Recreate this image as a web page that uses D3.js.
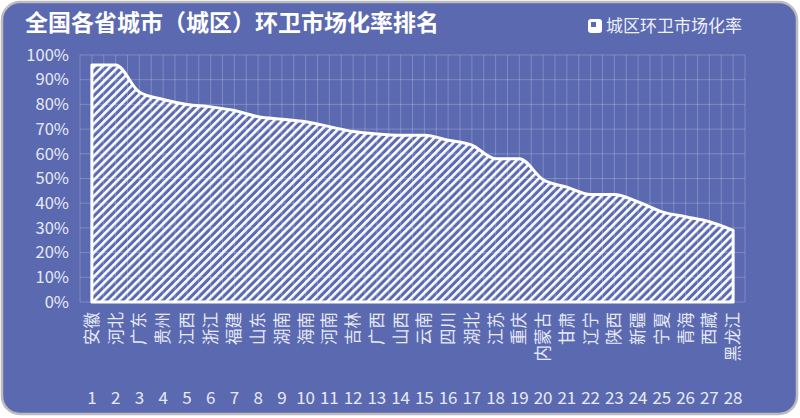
<!DOCTYPE html>
<html>
<head>
<meta charset="utf-8">
<script src="https://cdn.jsdelivr.net/npm/d3@7"></script>
<style>
  html, body { margin: 0; padding: 0; background: #fff; }
  svg { display: block; font-family: "Noto Sans CJK SC", "Noto Sans", sans-serif; }
</style>
</head>
<body>
<div id="chart"></div>
<script>
'use strict';

// provinces, ranked
var provinces = ["安徽", "河北", "广东", "贵州", "江西", "浙江", "福建", "山东", "湖南", "海南",
	"河南", "吉林", "广西", "山西", "云南", "四川", "湖北", "江苏", "重庆", "内蒙古",
	"甘肃", "辽宁", "陕西", "新疆", "宁夏", "青海", "西藏", "黑龙江"];
var ranks = d3.range(1, 29);
var rates = [0.96, 0.96, 0.85, 0.82, 0.80, 0.79, 0.775, 0.75, 0.74, 0.73,
	0.71, 0.69, 0.68, 0.675, 0.675, 0.655, 0.635, 0.58, 0.58, 0.495,
	0.465, 0.435, 0.435, 0.405, 0.365, 0.345, 0.325, 0.29];
var yTicks = [0, 0.1, 0.2, 0.3, 0.4, 0.5, 0.6, 0.7, 0.8, 0.9, 1];

var W = 800, H = 418;
var margin = { top: 55, right: 55, bottom: 116, left: 80 };
var width = W - margin.left - margin.right, //
	height = H - margin.top - margin.bottom;

var svg = d3.select("#chart").append("svg")
	.attr("width", W).attr("height", H);

// card background
svg.append("rect")
	.attr("x", 2).attr("y", 2).attr("width", W - 5).attr("height", H - 6)
	.attr("rx", 18).attr("ry", 18)
	.attr("fill", "#5b69b0")
	.attr("stroke", "#bcbcbc").attr("stroke-width", 2.5);

// hatch pattern
var pat = svg.append("defs").append("pattern")
	.attr("id", "hatch")
	.attr("patternUnits", "userSpaceOnUse")
	.attr("width", 5.7).attr("height", 5.7)
	.attr("patternTransform", "rotate(45)");
pat.append("line")
	.attr("x1", 1.3).attr("y1", 0).attr("x2", 1.3).attr("y2", 5.7)
	.attr("stroke", "#fff").attr("stroke-width", 2.6);

// title
svg.append("text")
	.attr("x", 25).attr("y", 31)
	.attr("fill", "#fff").attr("font-size", 23).attr("font-weight", "bold")
	.text("全国各省城市（城区）环卫市场化率排名");

// legend
var lg = svg.append("g").attr("transform", "translate(588,19)");
lg.append("rect").attr("width", 14).attr("height", 14).attr("rx", 3).attr("fill", "#fff");
lg.append("rect").attr("x", 3).attr("y", 3).attr("width", 5).attr("height", 5).attr("fill", "#5b69b0");
lg.append("text").attr("x", 18).attr("y", 13)
	.attr("fill", "#eef0fa").attr("font-size", 17)
	.text("城区环卫市场化率");

var g = svg.append("g")
	.attr("transform", "translate(" + margin.left + "," + margin.top + ")");

var x = d3.scaleBand().domain(ranks).range([0, width]);
var y = d3.scaleLinear().domain([0, 1]).range([height, 0]);
var bw = x.bandwidth();
function cx(d) { return x(d) + bw / 2; }

// grid
var grid = g.append("g").attr("stroke", "rgba(255,255,255,0.22)").attr("stroke-width", 1);
grid.selectAll("line.h").data(yTicks).enter().append("line")
	.attr("x1", 0).attr("x2", width)
	.attr("y1", function(d) { return y(d); }).attr("y2", function(d) { return y(d); });
var vlines = d3.range(0, ranks.length * 2 + 1).map(function(i) { return i * bw / 2; });
grid.selectAll("line.v").data(vlines).enter().append("line")
	.attr("x1", function(d) { return d; }).attr("x2", function(d) { return d; })
	.attr("y1", 0).attr("y2", height);

// y axis
var yAxis = g.append("g").call(d3.axisLeft(y).tickValues(yTicks).tickFormat(d3.format(".0%")).tickSize(0).tickPadding(11));
yAxis.select(".domain").remove();
yAxis.selectAll("text").attr("fill", "#e6e9f6").attr("font-size", 16.5)
	.style("font-family", "'Noto Sans CJK SC', sans-serif");

// area
var area = d3.area()
	.x(function(d, i) { return cx(ranks[i]); })
	.y0(y(0))
	.y1(function(d) { return y(d); })
	.curve(d3.curveMonotoneX);
g.append("path").datum(rates)
	.attr("d", area)
	.attr("fill", "url(#hatch)")
	.attr("stroke", "#fff").attr("stroke-width", 3)
	.attr("stroke-linejoin", "round");

// province labels, rotated
g.selectAll("text.prov").data(provinces).enter().append("text")
	.attr("class", "prov")
	.attr("transform", function(d, i) {
		return "translate(" + (cx(ranks[i]) + 6) + "," + (height + 10) + ") rotate(-90)";
	})
	.attr("text-anchor", "end")
	.attr("fill", "#e6e9f6").attr("font-size", 16.5)
	.text(function(d) { return d; });

// rank numbers
g.selectAll("text.rank").data(ranks).enter().append("text")
	.attr("class", "rank")
	.attr("x", function(d) { return cx(d); })
	.attr("y", height + 102)
	.attr("text-anchor", "middle")
	.attr("fill", "#e6e9f6").attr("font-size", 17)
	.text(function(d) { return d; });
</script>
</body>
</html>
